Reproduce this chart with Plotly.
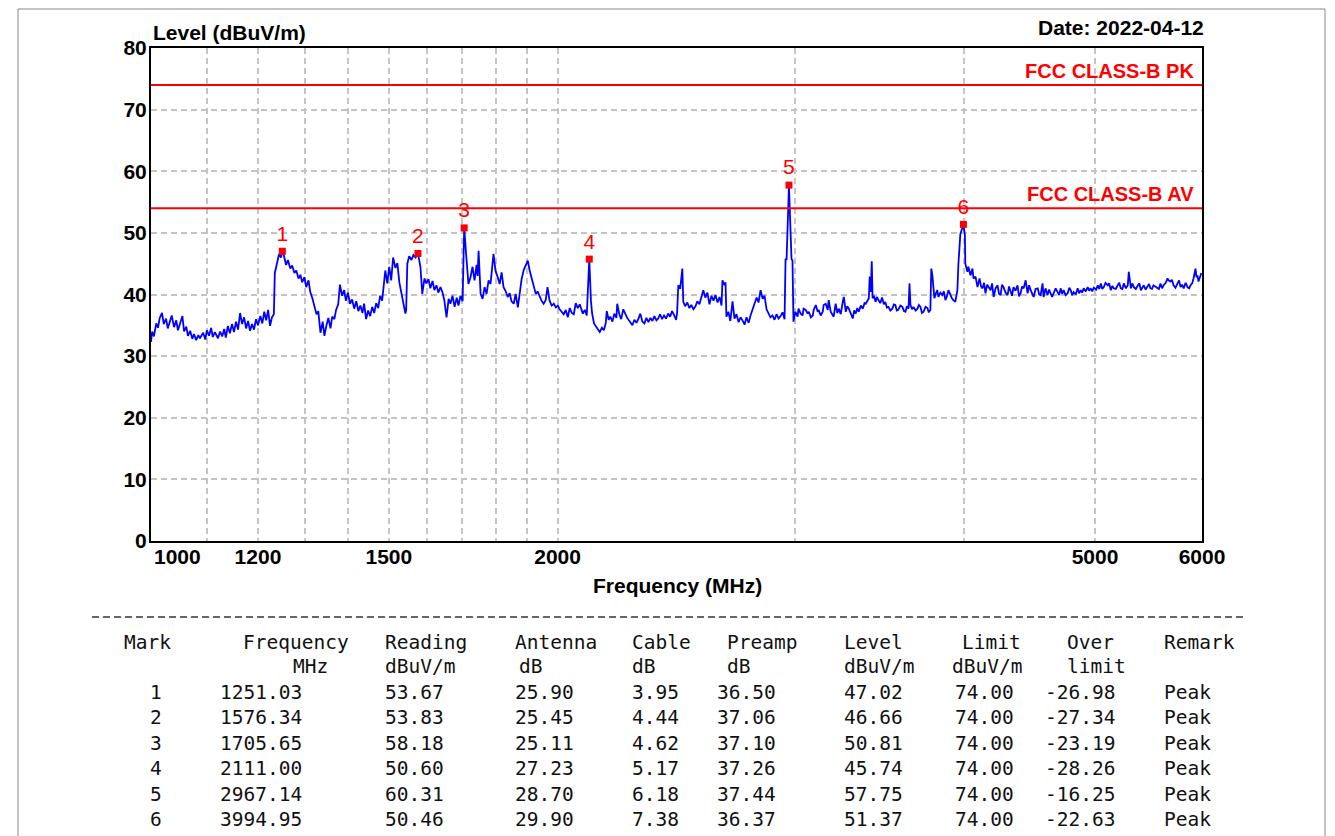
import math
import plotly.graph_objects as go

# ---------------- data ----------------
spectrum_points = [
    (1000, 32.3), (1002, 34.0), (1005, 33.2), (1009, 35.3), (1012, 34.6), (1015, 36.2), (1019, 37.0),
    (1022, 35.2), (1026, 36.1), (1029, 34.5), (1033, 35.7), (1036, 36.6), (1040, 34.7), (1044, 35.8),
    (1047, 34.2), (1051, 35.4), (1055, 36.5), (1058, 34.0), (1062, 34.8), (1065, 33.3), (1069, 34.1),
    (1073, 32.8), (1076, 33.6), (1080, 32.6), (1084, 33.4), (1087, 32.9), (1093, 33.8), (1097, 32.7),
    (1100, 34.2), (1104, 33.3), (1108, 34.6), (1111, 33.1), (1115, 33.9), (1121, 32.9), (1125, 34.0),
    (1129, 33.2), (1133, 34.4), (1136, 33.0), (1140, 34.9), (1144, 33.7), (1148, 35.2), (1152, 33.9),
    (1156, 35.6), (1160, 34.3), (1164, 37.0), (1168, 35.2), (1172, 36.3), (1176, 34.5), (1180, 35.7),
    (1184, 34.1), (1188, 35.2), (1192, 34.3), (1196, 36.0), (1200, 35.0), (1205, 36.5), (1209, 35.3),
    (1213, 37.2), (1217, 35.8), (1221, 37.5), (1225, 34.9), (1229, 36.3), (1233, 36.8), (1235, 43.5),
    (1240, 45.2), (1244, 46.6), (1248, 46.0), (1251.03, 47.02), (1254, 46.4), (1259, 44.8), (1263, 45.6),
    (1268, 44.2), (1272, 44.7), (1277, 43.5), (1281, 43.9), (1286, 42.6), (1290, 43.2), (1294, 42.0),
    (1299, 42.8), (1303, 41.2), (1308, 42.3), (1312, 40.4), (1317, 39.3), (1321, 38.2), (1326, 36.8),
    (1330, 37.3), (1335, 33.8), (1340, 35.6), (1344, 33.3), (1349, 35.1), (1353, 36.2), (1358, 34.5),
    (1362, 36.4), (1367, 36.0), (1371, 37.5), (1376, 38.4), (1380, 41.6), (1385, 39.8), (1390, 40.7),
    (1394, 39.0), (1399, 40.3), (1404, 38.5), (1409, 39.2), (1414, 37.7), (1419, 38.9), (1424, 37.3),
    (1429, 38.2), (1434, 37.0), (1438, 38.5),
    (1443, 36.0), (1448, 37.4), (1453, 36.5), (1458, 38.0), (1463, 37.0), (1468, 38.6), (1473, 37.8),
    (1478, 39.8), (1483, 39.0), (1488, 41.5), (1491, 43.9), (1496, 41.8), (1501, 44.5), (1506, 42.3),
    (1511, 46.0), (1517, 44.3), (1522, 45.1), (1527, 42.0), (1533, 40.1), (1538, 38.4), (1543, 36.9),
    (1545, 37.5), (1548, 45.0), (1553, 46.2), (1559, 45.6), (1564, 46.4), (1570, 46.0), (1576.34, 46.66),
    (1583, 44.5), (1588, 40.1), (1594, 42.6), (1599, 41.8), (1605, 42.5), (1610, 41.0), (1616, 42.2),
    (1621, 40.7), (1627, 41.5), (1632, 40.3), (1638, 41.2), (1644, 40.3), (1649, 39.0), (1655, 36.3),
    (1661, 39.3), (1666, 38.5), (1672, 39.8), (1678, 38.0), (1684, 39.5), (1689, 38.2), (1695, 39.8),
    (1701, 38.9), (1705.65, 50.81), (1712, 46.0), (1718, 41.7), (1724, 42.8), (1730, 44.5), (1736, 42.3),
    (1742, 44.8), (1745, 43.0), (1748, 47.1), (1754, 40.1), (1760, 39.3), (1766, 41.2), (1772, 40.1),
    (1778, 42.3), (1784, 41.7), (1793, 46.6), (1799, 43.9), (1806, 42.8), (1812, 41.7), (1818, 43.6),
    (1824, 41.2), (1830, 40.6), (1837, 39.6), (1843, 40.2), (1849, 38.9), (1856, 38.5), (1862, 40.1),
    (1869, 37.9), (1875, 40.6), (1881, 42.5), (1888, 44.0), (1894, 44.6), (1901, 45.5), (1907, 43.9),
    (1913, 42.8), (1920, 41.2), (1927, 40.1), (1933, 40.5), (1940, 39.6), (1946, 39.0), (1953, 38.5),
    (1960, 39.1), (1966, 41.2), (1973, 39.0), (1980, 38.2), (1987, 38.5), (1994, 37.9), (2001, 38.2),
    (2007, 37.6), (2014, 37.2), (2021, 36.8), (2028, 37.5), (2035, 36.3), (2042, 37.8), (2049, 37.0),
    (2056, 36.8),
    (2063, 38.6), (2070, 37.8), (2077, 38.4), (2088, 36.9), (2095, 37.5), (2102, 36.6), (2106, 39.9),
    (2111.00, 45.74), (2117, 39.0), (2121, 37.0), (2128, 35.3), (2135, 34.8), (2142, 34.5), (2149, 33.9),
    (2157, 34.6), (2164, 34.2), (2171, 35.3), (2175, 37.3), (2182, 35.9), (2188, 36.4), (2196, 35.6),
    (2203, 36.9), (2211, 36.2), (2214, 38.5), (2222, 36.8), (2229, 36.0), (2237, 37.6), (2245, 36.9),
    (2252, 36.2), (2264, 35.5), (2272, 35.0), (2280, 35.9), (2288, 35.4), (2295, 36.0), (2303, 36.9),
    (2311, 35.6), (2319, 35.3), (2327, 36.2), (2335, 35.5), (2343, 36.2), (2351, 35.7), (2359, 36.5),
    (2367, 35.8), (2374, 36.1), (2382, 36.8), (2390, 36.0), (2398, 36.6), (2406, 36.1), (2415, 36.9),
    (2423, 36.4), (2431, 37.3), (2440, 36.6), (2448, 35.9), (2452, 37.0), (2457, 41.5), (2465, 40.9),
    (2474, 44.2), (2478, 38.8), (2486, 38.1), (2495, 38.7), (2504, 37.8), (2512, 38.3), (2521, 37.6),
    (2530, 38.1), (2538, 38.9), (2547, 38.4), (2556, 39.6), (2564, 40.7), (2573, 39.5), (2582, 40.3),
    (2591, 38.4), (2600, 39.8), (2609, 39.0), (2618, 39.9), (2627, 38.7), (2636, 39.6), (2645, 38.2),
    (2649, 42.3), (2658, 41.5), (2663, 42.0), (2667, 36.4), (2676, 37.2), (2685, 35.7), (2695, 38.9),
    (2704, 36.1), (2713, 36.8), (2723, 35.5), (2732, 36.3), (2741, 35.8), (2751, 35.1), (2760, 36.3),
    (2770, 35.4), (2779, 36.6), (2789, 37.5), (2798, 38.6), (2808, 39.5), (2817, 38.7), (2827, 40.7),
    (2837, 39.3), (2846, 39.8), (2856, 37.6), (2866, 36.9), (2875, 36.3), (2885, 36.6), (2895, 35.9),
    (2905, 36.8), (2915, 36.1), (2925, 36.5), (2935, 37.1), (2945, 36.0), (2950, 45.8), (2955, 45.6),
    (2967.14, 57.75), (2980, 45.8), (2985, 45.5), (2990, 35.6),
    (3000, 37.2), (3011, 36.4), (3016, 37.7), (3027, 36.9), (3037, 36.6), (3042, 37.7), (3053, 37.5),
    (3063, 36.9), (3069, 37.2), (3080, 36.3), (3090, 36.6), (3095, 37.5), (3106, 38.3), (3116, 37.2),
    (3121, 37.5), (3132, 36.6), (3143, 37.2), (3148, 38.3), (3159, 38.5), (3170, 37.5), (3175, 39.1),
    (3186, 37.2), (3202, 36.4), (3213, 38.5), (3222, 37.0), (3230, 37.7), (3241, 36.8), (3252, 38.8),
    (3258, 39.6), (3269, 37.2), (3277, 38.1), (3286, 37.7), (3297, 36.8), (3308, 36.1), (3316, 37.4),
    (3325, 36.9), (3334, 37.8), (3342, 37.2), (3354, 38.2), (3365, 37.7), (3375, 38.6), (3382, 38.5),
    (3400, 39.4), (3405, 42.9), (3411, 40.4), (3417, 45.4), (3422, 39.4), (3430, 39.8), (3439, 38.8),
    (3447, 39.6), (3456, 39.1), (3467, 38.6), (3478, 39.5), (3488, 38.4), (3497, 38.8), (3506, 37.9),
    (3515, 38.0), (3527, 37.4), (3539, 37.7), (3548, 38.4), (3557, 38.3), (3566, 37.4), (3575, 37.5),
    (3588, 38.2), (3600, 38.0), (3610, 37.3), (3619, 37.2), (3628, 38.1), (3638, 37.7), (3644, 41.8),
    (3650, 38.3), (3660, 37.6), (3669, 38.0), (3682, 37.4), (3694, 37.7), (3703, 38.3), (3713, 38.0),
    (3722, 37.0), (3732, 37.2), (3745, 38.0), (3757, 37.8), (3766, 37.1), (3776, 37.5), (3782, 44.2),
    (3789, 43.1), (3802, 39.4), (3812, 40.2), (3821, 40.7), (3828, 39.6), (3841, 40.3), (3854, 39.9),
    (3864, 40.5), (3874, 39.1), (3884, 39.7), (3894, 40.7), (3907, 39.9), (3917, 39.4), (3927, 39.1),
    (3940, 38.8), (3954, 40.7), (3961, 45.0), (3974, 49.8), (3994.95, 51.37), (4005, 49.6), (4008, 45.0),
    (4022, 43.7), (4029, 44.5), (4043, 43.1), (4057, 44.2), (4064, 42.6), (4078, 42.9), (4092, 41.2),
    (4106, 42.6), (4117, 41.3), (4127, 41.0), (4138, 41.9), (4148, 40.2), (4160, 41.6), (4170, 41.2),
    (4184, 40.7),
    (4195, 41.8), (4206, 39.6), (4220, 41.0), (4234, 41.5), (4245, 40.1), (4256, 39.9), (4267, 41.6),
    (4278, 41.2), (4292, 40.3), (4307, 39.9), (4318, 41.3), (4329, 40.7), (4340, 39.8), (4351, 41.2),
    (4366, 40.6), (4381, 41.5), (4392, 39.7), (4404, 40.2), (4415, 41.3), (4427, 41.0), (4442, 42.3),
    (4457, 40.2), (4468, 41.5), (4480, 40.7), (4492, 40.0), (4503, 39.6), (4518, 40.9), (4534, 41.0),
    (4546, 40.0), (4557, 39.9), (4572, 41.8), (4580, 39.6), (4595, 41.0), (4611, 39.9), (4623, 40.8),
    (4635, 40.2), (4647, 39.6), (4659, 40.2), (4675, 41.0), (4691, 40.4), (4703, 39.9), (4715, 41.0),
    (4727, 40.1), (4739, 40.7), (4755, 39.9), (4772, 40.2), (4785, 41.1), (4797, 40.7), (4809, 39.9),
    (4821, 40.4), (4838, 40.0), (4854, 41.0), (4866, 40.2), (4879, 40.7), (4891, 40.3), (4904, 41.0),
    (4921, 40.5), (4938, 41.2), (4950, 40.6), (4963, 41.0), (4976, 40.5), (4989, 41.1), (5010, 40.8),
    (5023, 41.5), (5036, 40.9), (5049, 41.8), (5062, 40.9), (5075, 41.2), (5090, 41.9), (5110, 41.5),
    (5122, 41.8), (5136, 40.7), (5150, 41.4), (5162, 41.0), (5180, 40.9), (5197, 41.5), (5210, 41.9),
    (5224, 41.0), (5238, 40.9), (5251, 41.8), (5270, 41.0), (5287, 41.5), (5296, 43.7), (5315, 41.0),
    (5328, 41.8), (5342, 41.2), (5360, 40.9), (5379, 41.5), (5392, 41.8), (5406, 40.7), (5420, 41.2),
    (5433, 41.5), (5450, 40.8), (5468, 41.2), (5482, 41.7), (5495, 41.0), (5510, 40.9), (5524, 41.5),
    (5543, 41.3), (5562, 41.0), (5575, 40.9), (5590, 41.8), (5605, 41.0), (5619, 41.5), (5640, 41.9),
    (5658, 42.6), (5668, 42.3), (5687, 42.1), (5700, 42.4), (5716, 41.5), (5735, 41.1), (5755, 41.8),
    (5770, 42.3), (5785, 41.2), (5800, 41.6), (5815, 41.0), (5835, 41.9), (5854, 41.2), (5870, 41.0),
    (5884, 41.5), (5900, 41.8), (5914, 42.6), (5934, 44.2), (5944, 42.8), (5954, 43.1), (5964, 42.1),
    (5975, 42.6), (5994, 43.5),
]
spectrum_mhz = [p[0] for p in spectrum_points]
spectrum_dbuv = [p[1] for p in spectrum_points]

limit_mhz = [1000, 6000]
limit_pk = [74, 74]
limit_av = [54, 54]

marks = [1, 2, 3, 4, 5, 6]
mark_freq = [1251.03, 1576.34, 1705.65, 2111.00, 2967.14, 3994.95]
mark_reading = [53.67, 53.83, 58.18, 50.60, 60.31, 50.46]
mark_antenna = [25.90, 25.45, 25.11, 27.23, 28.70, 29.90]
mark_cable = [3.95, 4.44, 4.62, 5.17, 6.18, 7.38]
mark_preamp = [36.50, 37.06, 37.10, 37.26, 37.44, 36.37]
mark_level = [47.02, 46.66, 50.81, 45.74, 57.75, 51.37]
mark_limit = [74.00, 74.00, 74.00, 74.00, 74.00, 74.00]
mark_over = [-26.98, -27.34, -23.19, -28.26, -16.25, -22.63]
mark_remark = ["Peak", "Peak", "Peak", "Peak", "Peak", "Peak"]

x_tick_vals = [1000, 1100, 1200, 1300, 1400, 1500, 1600, 1700, 1800, 1900, 2000, 3000, 4000, 5000, 6000]
x_tick_text = ["", "", "1200", "", "", "1500", "", "", "", "", "2000", "", "", "5000", "6000"]
y_tick_vals = [0, 10, 20, 30, 40, 50, 60, 70, 80]

table_head1 = ["Mark", "Frequency", "Reading", "Antenna", "Cable", "Preamp", "Level", "Limit", "Over", "Remark"]
table_head2 = ["", "MHz", "dBuV/m", "dB", "dB", "dB", "dBuV/m", "dBuV/m", "limit", ""]

# ---------------- layout geometry (screen pixels; page body adds an 8px offset) ----------------
OFF = 8
W, H = 1335 - OFF, 836 - OFF
PL, PR, PT, PB = 151, 1202, 48, 541          # plot box in screen pixels
ML, MT = PL - OFF, PT - OFF
MR = W - (PR - OFF)
MB = H - (PB - OFF)
PW = PR - PL
PH = PB - PT


def pxx(px):
    return (px - PL) / PW


def pyy(py):
    return (PB - py) / PH


SANS = "Liberation Sans, Arial, sans-serif"
MONO = "DejaVu Sans Mono, monospace"
RED = "#ff0000"

fig = go.Figure()

fig.add_trace(go.Scatter(
    x=spectrum_mhz, y=spectrum_dbuv, mode="lines",
    line=dict(color="#0000ff", width=1.8), hoverinfo="skip", showlegend=False))

fig.add_trace(go.Scatter(x=limit_mhz, y=limit_pk, mode="lines",
                         line=dict(color=RED, width=1.8), showlegend=False, hoverinfo="skip"))
fig.add_trace(go.Scatter(x=limit_mhz, y=limit_av, mode="lines",
                         line=dict(color=RED, width=1.8), showlegend=False, hoverinfo="skip"))

fig.add_trace(go.Scatter(
    x=mark_freq, y=mark_level, mode="markers+text",
    text=[str(m) for m in marks], textposition="top center",
    textfont=dict(family=SANS, size=21, color=RED),
    marker=dict(symbol="square", size=7, color=RED),
    showlegend=False, hoverinfo="skip", cliponaxis=False))

axis_common = dict(
    showgrid=True, gridcolor="#c4c4c4", gridwidth=1.5, griddash="6px,4px",
    showline=True, linecolor="black", linewidth=2, mirror=True,
    ticks="", zeroline=False,
    tickfont=dict(family=SANS, size=21, color="black", weight="bold"),
)

fig.update_xaxes(type="log", range=[3, math.log10(6000)],
                 tickvals=x_tick_vals, ticktext=x_tick_text, ticklabelstandoff=-4, **axis_common)
fig.update_yaxes(range=[0, 80], tickvals=y_tick_vals, ticklabelstandoff=-2, **axis_common)

annotations = []


def add_text(text, px, py, xanchor="left", font=None, yanchor="middle"):
    annotations.append(dict(
        text=text, x=pxx(px), y=pyy(py), xref="paper", yref="paper",
        xanchor=xanchor, yanchor=yanchor, showarrow=False,
        font=font or dict(family=MONO, size=19.5, color="#111111")))


bold = dict(family=SANS, size=21, color="black", weight="bold")
add_text("1000", 152, 556, "left", bold)
add_text("Level (dBuV/m)", 151, 32, "left", bold)
add_text("Date: 2022-04-12", 1206, 28, "right", bold)
add_text("Frequency (MHz)", 677, 585, "center", bold)

red_bold = dict(family=SANS, size=20, color=RED, weight="bold")
annotations.append(dict(text="FCC CLASS-B PK", x=pxx(1196), y=74, xref="paper", yref="y",
                        xanchor="right", yanchor="bottom", yshift=1, showarrow=False, font=red_bold))
annotations.append(dict(text="FCC CLASS-B AV", x=pxx(1196), y=54, xref="paper", yref="y",
                        xanchor="right", yanchor="bottom", yshift=1, showarrow=False, font=red_bold))

# table
head_x = [122, 241, 383, 513, 630, 725, 842, 960, 1065, 1162]
unit_x = [122, 291, 383, 517, 630, 725, 842, 950, 1065, 1162]
data_x = [148, 218, 383, 513, 630, 715, 842, 953, 1043, 1162]
row_y = [692, 717, 743, 768, 794, 819]

for txt, x in zip(table_head1, head_x):
    add_text(txt, x, 642)
for txt, x in zip(table_head2, unit_x):
    if txt:
        add_text(txt, x, 666)

for i in range(len(marks)):
    cells = [str(marks[i]), f"{mark_freq[i]:.2f}", f"{mark_reading[i]:.2f}", f"{mark_antenna[i]:.2f}",
             f"{mark_cable[i]:.2f}", f"{mark_preamp[i]:.2f}", f"{mark_level[i]:.2f}",
             f"{mark_limit[i]:.2f}", f"{mark_over[i]:.2f}", mark_remark[i]]
    for txt, x in zip(cells, data_x):
        add_text(txt, x, row_y[i])

shapes = [
    dict(type="line", xref="paper", yref="paper", x0=pxx(92), x1=pxx(1245), y0=pyy(617), y1=pyy(617),
         line=dict(color="#333333", width=1.5, dash="7px,4px")),
    dict(type="rect", xref="paper", yref="paper", x0=pxx(18), x1=pxx(1325), y0=pyy(850), y1=pyy(9),
         line=dict(color="#888888", width=1), layer="below"),
]

fig.update_layout(
    width=W, height=H,
    margin=dict(l=ML, r=MR, t=MT, b=MB, pad=0),
    paper_bgcolor="white", plot_bgcolor="white",
    annotations=annotations, shapes=shapes,
    showlegend=False,
)

fig.write_html("out.html")
